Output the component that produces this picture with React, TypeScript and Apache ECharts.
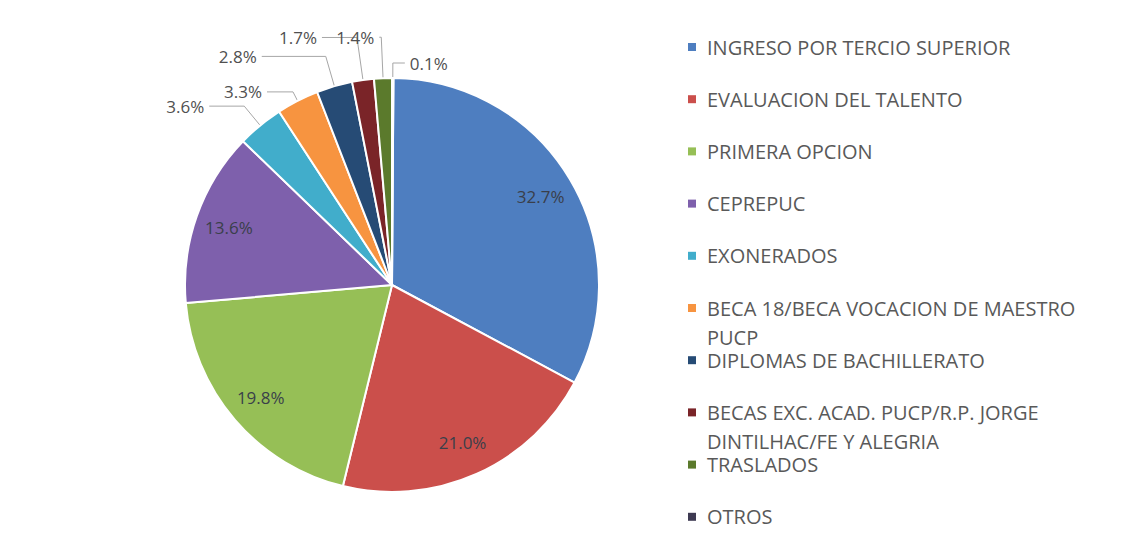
import React, { useEffect, useRef } from "react";
import * as echarts from "echarts";

// ---- data ----
const categories: string[] = [
  "INGRESO POR TERCIO SUPERIOR",
  "EVALUACION DEL TALENTO",
  "PRIMERA OPCION",
  "CEPREPUC",
  "EXONERADOS",
  "BECA 18/BECA VOCACION DE MAESTRO\nPUCP",
  "DIPLOMAS DE BACHILLERATO",
  "BECAS EXC. ACAD. PUCP/R.P. JORGE\nDINTILHAC/FE Y ALEGRIA",
  "TRASLADOS",
  "OTROS",
];
const percentages: number[] = [32.7, 21.0, 19.8, 13.6, 3.6, 3.3, 2.8, 1.7, 1.4, 0.1];

// ---- styles ----
const colors: string[] = [
  "#4E7EC0", "#CB4F4B", "#96BF56", "#7E60AC", "#41ADCB",
  "#F79440", "#264B75", "#7A2428", "#5B7A2C", "#3E3A52",
];
const insideLabel: boolean[] = [true, true, true, true, false, false, false, false, false, false];
const lineLen: number[] = [0, 0, 0, 0, 25, 10, 31, 43, 41, 15];
const lineLen2: number[] = [0, 0, 0, 0, 35, 26, 64, 35, 2, 12];

const FONT = "'Open Sans', 'Noto Sans', sans-serif";
const CENTER = [392, 285];
const RADIUS = 207;
const LEGEND_LEFT = 688;
const LEGEND_TOP = 37;
const LEGEND_TEXT_H = 20;
const LEGEND_GAP = 32.2;
const LEGEND_FONT = 20;
const CONT_OFFSET = 29;

const fmt = (v: number) => `${v.toFixed(1)}%`;

export default function App() {
  const ref = useRef<HTMLDivElement>(null);
  useEffect(() => {
    if (!ref.current) return;
    const chart = echarts.init(ref.current, null, { renderer: "svg" });

    const continuation = categories
      .map((name, i) => ({ i, parts: name.split("\n") }))
      .filter((d) => d.parts.length > 1)
      .map((d) => ({
        type: "text",
        left: LEGEND_LEFT + 19,
        top: LEGEND_TOP + d.i * (LEGEND_TEXT_H + LEGEND_GAP) + CONT_OFFSET,
        style: {
          text: d.parts.slice(1).join(" "),
          font: `${LEGEND_FONT}px ${FONT}`,
          fill: "#595959",
        },
      }));

    chart.setOption({
      animation: false,
      backgroundColor: "#ffffff",
      color: colors,
      legend: {
        orient: "vertical",
        left: LEGEND_LEFT,
        top: LEGEND_TOP,
        padding: 0,
        itemGap: LEGEND_GAP,
        itemWidth: 8,
        itemHeight: 8,
        icon: "rect",
        selectedMode: false,
        itemStyle: { borderWidth: 0 },
        data: categories,
        formatter: (name: string) => name.split("\n")[0],
        textStyle: {
          fontFamily: FONT,
          fontSize: LEGEND_FONT,
          lineHeight: LEGEND_TEXT_H,
          color: "#595959",
          padding: [0, 0, 0, 6],
        },
      },
      graphic: continuation,
      series: [
        {
          type: "pie",
          name: "main",
          center: CENTER,
          radius: RADIUS,
          startAngle: 89.6,
          clockwise: true,
          avoidLabelOverlap: false,
          itemStyle: { borderColor: "#ffffff", borderWidth: 2 },
          label: {
            show: true,
            position: "outside",
            formatter: (p: any) => fmt(p.value),
            fontFamily: FONT,
            fontSize: 17,
            color: "#505050",
          },
          labelLine: {
            lineStyle: { color: "#a6a6a6", width: 1 },
          },
          emphasis: { disabled: true },
          data: categories.map((name, i) => ({
            name,
            value: percentages[i],
            itemStyle: { color: colors[i] },
            label: { show: !insideLabel[i] },
            labelLine: {
              show: !insideLabel[i],
              length: lineLen[i],
              length2: lineLen2[i],
            },
          })),
        },
        {
          type: "pie",
          name: "labels",
          center: CENTER,
          radius: [133, RADIUS],
          startAngle: 89.6,
          clockwise: true,
          silent: true,
          itemStyle: { color: "rgba(0,0,0,0)", borderWidth: 0 },
          label: {
            show: true,
            position: "inside",
            formatter: (p: any) => fmt(p.value),
            fontFamily: FONT,
            fontSize: 17,
            color: "#3a3f4a",
          },
          labelLine: { show: false },
          emphasis: { disabled: true },
          data: categories.map((name, i) => ({
            name,
            value: percentages[i],
            label: { show: insideLabel[i] },
          })),
        },
      ],
    });
    return () => chart.dispose();
  }, []);

  return (
    <div
      ref={ref}
      style={{
        position: "absolute",
        left: 0,
        top: 0,
        width: 1133,
        height: 554,
        background: "#ffffff",
      }}
    />
  );
}
